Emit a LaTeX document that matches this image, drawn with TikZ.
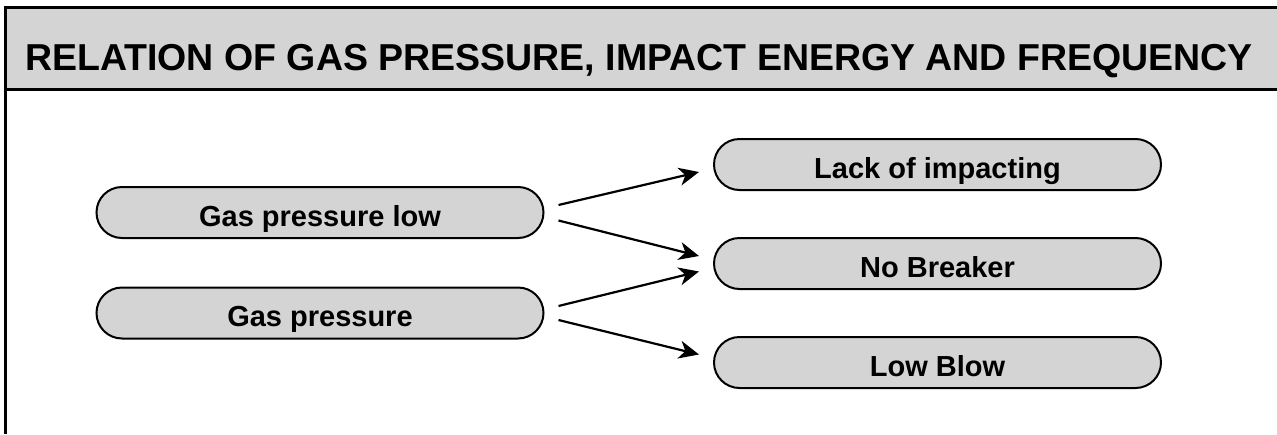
\documentclass[tikz,border=0pt]{standalone}
\usepackage{fontspec}
\setmainfont{Liberation Sans}
\usetikzlibrary{arrows.meta}
\usetikzlibrary{shapes.misc}
\tikzset{>={Stealth[length=20pt,width=18pt,inset=6pt]}}
\definecolor{boxgray}{RGB}{212,212,212}
\tikzset{
  pill/.style={rounded rectangle, draw=black, line width=2pt, fill=boxgray,
    minimum width=447pt, minimum height=51pt, inner sep=0pt,
    text height=27pt, text depth=0pt, font=\fontsize{29}{32}\selectfont\bfseries},
  link/.style={->, line width=2.2pt}
}

\begin{document}
\begin{tikzpicture}[x=1pt,y=-1pt]
  \useasboundingbox (0,0) rectangle (1277,434);

  % header band
  \fill[boxgray] (5,7) rectangle (1277,89);
  \draw[line width=3pt] (1277,7) -- (5,7) -- (5,434);
  \draw[line width=3pt] (5,89) -- (1277,89);
  \node[inner sep=0pt, text height=27pt, text depth=0pt,
    font=\fontsize{37.5}{40}\selectfont\bfseries] (title) at (639,56.5)
    {RELATION OF GAS PRESSURE, IMPACT ENERGY AND FREQUENCY};

  % causes
  \node[pill] (low) at (320,212.5) {Gas pressure low};
  \node[pill] (gas) at (320,313) {Gas pressure};

  % effects
  \node[pill] (lack) at (937.5,164.5) {Lack of impacting};
  \node[pill] (nobrk) at (937.5,263.5) {No Breaker};
  \node[pill] (blow) at (937.5,362.5) {Low Blow};

  % arrows
  \draw[link] ([xshift=14pt,yshift=7.5pt]low.east) -- ([xshift=-14pt,yshift=-7.5pt]lack.west);
  \draw[link] ([xshift=14pt,yshift=-8pt]low.east) -- ([xshift=-14pt,yshift=7.5pt]nobrk.west);
  \draw[link] ([xshift=14pt,yshift=7pt]gas.east) -- ([xshift=-14pt,yshift=-8pt]nobrk.west);
  \draw[link] ([xshift=14pt,yshift=-7pt]gas.east) -- ([xshift=-14pt,yshift=8pt]blow.west);
\end{tikzpicture}
\end{document}
